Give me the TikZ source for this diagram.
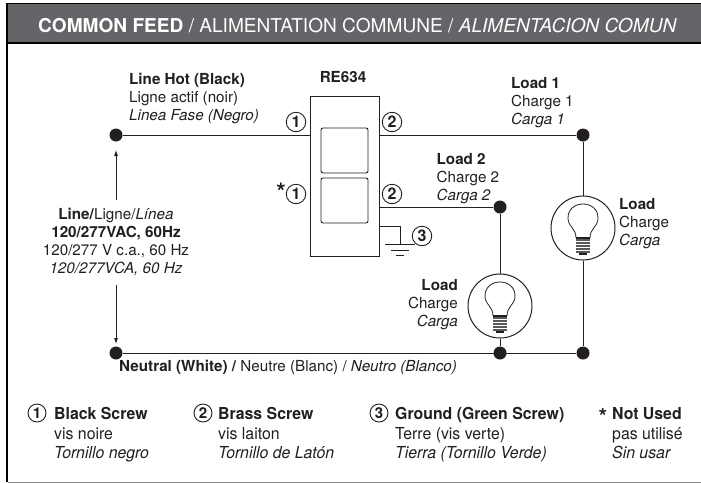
\documentclass[tikz,border=0pt]{standalone}
\usepackage{fontspec}
\setmainfont{TeX Gyre Heros}
\newfontfamily\cond[FakeStretch=0.96]{TeX Gyre Heros}
\usetikzlibrary{arrows.meta}
\definecolor{band}{HTML}{646568}
\definecolor{ink}{HTML}{231F20}
\tikzset{
 x=1pt,y=-1pt,
 wire/.style={draw=ink,line width=0.95pt},
 thin wire/.style={draw=ink,line width=0.85pt},
 dot/.style={circle,fill=ink,inner sep=0pt,minimum size=13pt},
 num/.style={circle,draw=ink,line width=0.9pt,inner sep=0pt,minimum size=19.5pt,font=\fontsize{16}{16}\selectfont\bfseries,text=ink},
 keynum/.style={num,minimum size=18pt,font=\fontsize{15}{15}\selectfont\bfseries},
 lbl/.style={inner sep=0pt,text=ink,font=\fontsize{15.2}{18.2}\selectfont},
 leg/.style={inner sep=0pt,text=ink,anchor=north west,align=left,font=\fontsize{16.5}{19.5}\selectfont\cond},
 lamp/.style={circle,draw=ink,line width=1pt,minimum size=64pt,inner sep=0pt,fill=white},
 tip/.style={-{Latex[length=6pt,width=4pt]},draw=ink,line width=0.8pt},
 pics/bulb/.style={code={
   \draw[ink,line width=0.8pt] (-7,10) .. controls (-7,0) and (-15,-1) .. (-15,-10)
      .. controls (-15,-19) and (-8,-24) .. (0,-24)
      .. controls (8,-24) and (15,-19) .. (15,-10)
      .. controls (15,-1) and (7,0) .. (7,10);
   \fill[ink!75] (-7,10) rectangle (7,25);
   \fill[ink] (-7,9) rectangle (7,11);
   \foreach \yy in {13,16,19,22}{\draw[white,line width=0.6pt] (-7,\yy) -- (7,\yy);}
   \fill[ink] (-4,25) rectangle (4,27);
 }}
}
\begin{document}
\begin{tikzpicture}
\useasboundingbox (0,0) rectangle (701,483);
\fill[white] (0,0) rectangle (701,483);
% frame and header
\fill[band] (6,3) rectangle (701,44);
\draw[black,line width=1.6pt] (6,3.5) -- (701,3.5);
\draw[black,line width=2pt] (6,43) -- (701,43);
\draw[black,line width=2.2pt] (7,3) -- (7,482);
\draw[black!45,line width=0.9pt] (8,482) -- (701,482);
\node[anchor=base west,inner sep=0pt,text=white,font=\fontsize{19.1}{19}\selectfont] (title) at (38,32)
 {\textbf{COMMON FEED} / ALIMENTATION COMMUNE / \textit{ALIMENTACION COMUN}};
% device
\node[draw=ink,line width=1pt,minimum width=69pt,minimum height=160pt,inner sep=0pt] (dev) at (344.5,176) {};
\node[draw=ink,line width=0.9pt,rounded corners=2pt,minimum width=47pt,minimum height=45pt,inner sep=0pt] (sw1) at (344.5,150.5) {};
\node[draw=ink,line width=0.9pt,rounded corners=2pt,minimum width=47pt,minimum height=45pt,inner sep=0pt] (sw2) at (344.5,200.5) {};
\node[lbl,font=\fontsize{15.2}{18}\selectfont\bfseries] (model) at (343,77) {RE634};
% junctions
\node[dot] (hot) at (116,135) {};
\node[dot] (neu) at (116,353) {};
\node[dot] (l1) at (583,135) {};
\node[dot] (l2) at (500,207) {};
\node[dot] (n2) at (500,353) {};
\node[dot] (n1) at (583,353) {};
\coordinate (devL) at (310,135);
\coordinate (devR1) at (379,135);
\coordinate (devR2) at (379,207);
\coordinate (devR3) at (379,226);
\coordinate (gnd) at (400,244);
% lamps
\node[lamp] (lamp1) at (583,228) {};
\node[lamp] (lamp2) at (500,306) {};
\pic at (lamp1.center) {bulb};
\pic at (lamp2.center) {bulb};
% wires
\draw[wire] (hot) -- (devL);
\draw[wire] (devR1) -- (l1);
\draw[wire] (devR2) -- (l2);
\draw[wire] (neu) -- (n1);
\draw[wire] (l1) -- (lamp1);
\draw[wire] (lamp1) -- (n1);
\draw[wire] (l2) -- (lamp2);
\draw[wire] (lamp2) -- (n2);
\draw[thin wire] (devR3) -| (gnd);
\draw[thin wire] (385,244) -- (415,244);
\draw[thin wire] (391,250) -- (409,250);
\draw[thin wire] (396,255.5) -- (404,255.5);
% voltage arrows
\coordinate (a1) at (116,200);
\coordinate (a2) at (116,285);
\draw[tip] (a1) -- (116,150);
\draw[tip] (a2) -- (116,344);
% numbers
\node[num] (n11) at (296,122) {1};
\node[num] (n12) at (296,194) {1};
\node[num] (n21) at (392,122) {2};
\node[num] (n22) at (392,194) {2};
\node[num] (n3) at (422,236) {3};
\node[lbl,font=\fontsize{24}{24}\selectfont\bfseries] (star) at (281,192) {*};
% labels
\node[lbl,anchor=north west,align=left] (hotl) at (129,73) {\textbf{Line Hot (Black)}\\Ligne actif (noir)\\\textit{Linea Fase (Negro)}};
\node[lbl,anchor=north west,align=left] (l1l) at (511,77) {\textbf{Load 1}\\Charge 1\\\textit{Carga 1}};
\node[lbl,anchor=north west,align=left] (l2l) at (436.5,153) {\textbf{Load 2}\\Charge 2\\\textit{Carga 2}};
\node[lbl,anchor=north west,align=left] (ll1) at (619,198) {\textbf{Load}\\Charge\\\textit{Carga}};
\node[lbl,anchor=north east,align=right] (ll2) at (458,279) {\textbf{Load}\\Charge\\\textit{Carga}};
\node[lbl,anchor=north,align=center] (linel) at (116,207.5) {\textbf{Line/}Ligne/\textit{Línea}\\\textbf{120/277VAC, 60Hz}\\120/277 V c.a., 60 Hz\\\textit{120/277VCA, 60 Hz}};
\node[lbl,anchor=north west] (neul) at (119,360) {\textbf{Neutral (White) /} Neutre (Blanc) / \textit{Neutro (Blanco)}};
% legend
\node[keynum] (k1) at (37,413) {1};
\node[leg] (k1t) at (54,407.5) {\textbf{Black Screw}\\vis noire\\\textit{Tornillo negro}};
\node[keynum] (k2) at (203,413) {2};
\node[leg] (k2t) at (218,407.5) {\textbf{Brass Screw}\\vis laiton\\\textit{Tornillo de Latón}};
\node[keynum] (k3) at (379,413) {3};
\node[leg] (k3t) at (395,407.5) {\textbf{Ground (Green Screw)}\\Terre (vis verte)\\\textit{Tierra (Tornillo Verde)}};
\node[lbl,font=\fontsize{22}{22}\selectfont\bfseries] (k4) at (603,416) {*};
\node[leg] (k4t) at (612,407.5) {\textbf{Not Used}\\pas utilisé\\\textit{Sin usar}};
\end{tikzpicture}
\end{document}
